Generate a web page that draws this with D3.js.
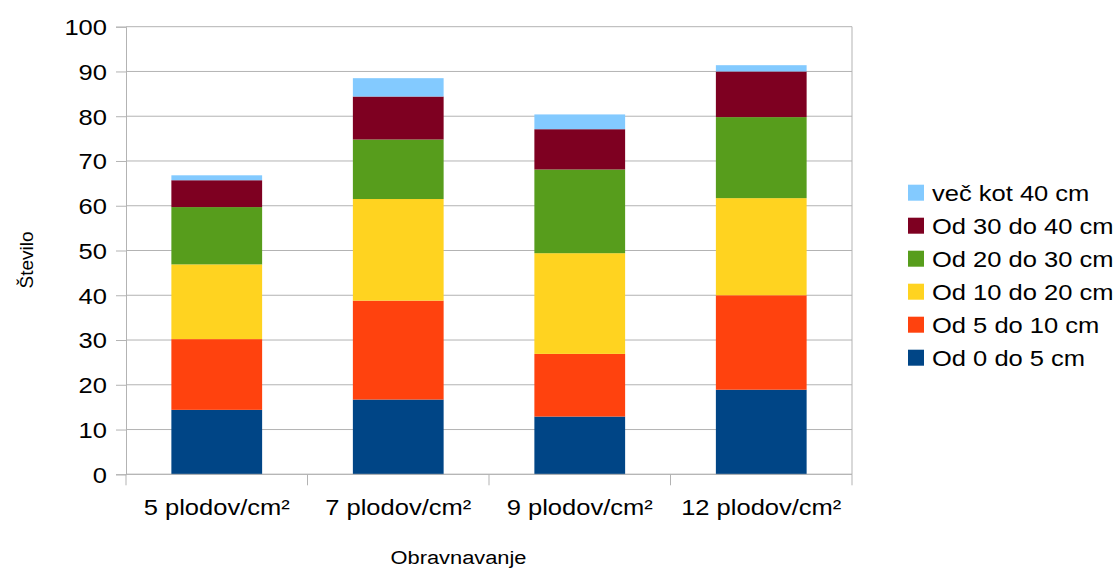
<!DOCTYPE html>
<html>
<head>
<meta charset="utf-8">
<script src="https://cdn.jsdelivr.net/npm/d3@7"></script>
<style>
  body { margin: 0; background: #fff; }
  text { font-family: "Liberation Sans", Arial, sans-serif; fill: #000; }
</style>
</head>
<body>
<script>
// data (segment values, bottom to top)
const categories = ["5 plodov/cm²", "7 plodov/cm²", "9 plodov/cm²", "12 plodov/cm²"];
const seriesNames = ["Od 0 do 5 cm", "Od 5 do 10 cm", "Od 10 do 20 cm", "Od 20 do 30 cm", "Od 30 do 40 cm", "več kot 40 cm"];
const od0do5 = [14.4, 16.7, 12.9, 18.9];
const od5do10 = [15.8, 22.1, 14.0, 21.1];
const od10do20 = [16.7, 22.7, 22.5, 21.7];
const od20do30 = [12.8, 13.3, 18.7, 18.1];
const od30do40 = [6.0, 9.6, 9.0, 10.2];
const vec40 = [1.1, 4.1, 3.3, 1.4];
const yTicks = [0, 10, 20, 30, 40, 50, 60, 70, 80, 90, 100];

const colors = ["#004586", "#ff420e", "#ffd320", "#579d1c", "#7e0021", "#83caff"];
const seriesValues = [od0do5, od5do10, od10do20, od20do30, od30do40, vec40];

const width = 1116, height = 568;
const plotLeft = 126, plotRight = 852, plotTop = 26.7, plotBottom = 474.3;
const sx = 1.16; // the picture is stretched sideways
const fs = 22;

const svg = d3.select("body").append("svg")
    .attr("width", width)
    .attr("height", height);

const x = d3.scaleBand()
    .domain(categories)
    .range([plotLeft, plotRight])
    .paddingInner(0.5)
    .paddingOuter(0.25);

const y = d3.scaleLinear()
    .domain([0, 100])
    .range([plotBottom, plotTop]);

// rows for the stack
const rows = categories.map((c, i) => {
    const r = { cat: c };
    seriesNames.forEach((s, j) => { r[s] = seriesValues[j][i]; });
    return r;
});
const stacked = d3.stack().keys(seriesNames)(rows);

// grid
svg.append("g")
    .selectAll("line")
    .data(yTicks)
    .enter()
    .append("line")
    .attr("x1", plotLeft)
    .attr("x2", plotRight)
    .attr("y1", (d) => y(d))
    .attr("y2", (d) => y(d))
    .attr("stroke", "#b3b3b3")
    .attr("stroke-width", 1);

// plot border right side
svg.append("line")
    .attr("x1", plotRight).attr("x2", plotRight)
    .attr("y1", plotTop).attr("y2", plotBottom)
    .attr("stroke", "#b3b3b3");

// bars
svg.append("g")
    .selectAll("g")
    .data(stacked)
    .enter()
    .append("g")
    .attr("fill", (d, i) => colors[i])
    .selectAll("rect")
    .data((d) => d)
    .enter()
    .append("rect")
    .attr("x", (d) => x(d.data.cat))
    .attr("width", x.bandwidth())
    .attr("y", (d) => y(d[1]))
    .attr("height", (d) => y(d[0]) - y(d[1]));

// y axis
const yAxis = d3.axisLeft(y)
    .tickValues(yTicks)
    .tickSize(10)
    .tickPadding(9)
    .tickFormat(d3.format("d"));
const gy = svg.append("g")
    .attr("transform", "translate(" + plotLeft + ",0)")
    .call(yAxis);
gy.select(".domain").attr("stroke", "#b3b3b3");
gy.selectAll(".tick line").attr("stroke", "#b3b3b3");
gy.selectAll(".tick text")
    .attr("font-size", fs)
    .attr("font-family", "Liberation Sans, Arial, sans-serif")
    .attr("fill", "#000")
    .attr("dy", "0.36em")
    .attr("x", null)
    .attr("transform", "translate(-19,0) scale(" + sx + ",1)");

// x axis: ticks at category boundaries
const gx = svg.append("g")
    .attr("transform", "translate(0," + plotBottom + ")");
gx.append("line")
    .attr("x1", plotLeft).attr("x2", plotRight)
    .attr("stroke", "#b3b3b3");
const bounds = categories.map((c) => x(c) - x.step() * x.paddingInner() / 2);
bounds.push(plotRight);
gx.selectAll(".tk")
    .data(bounds)
    .enter()
    .append("line")
    .attr("class", "tk")
    .attr("x1", (d) => d).attr("x2", (d) => d)
    .attr("y1", 0).attr("y2", 11)
    .attr("stroke", "#b3b3b3");
gx.selectAll("text")
    .data(categories)
    .enter()
    .append("text")
    .attr("text-anchor", "middle")
    .attr("font-size", fs)
    .attr("transform", (d) => "translate(" + (x(d) + x.bandwidth() / 2) + ",41) scale(" + sx + ",1)")
    .text((d) => d);

// axis titles
svg.append("text")
    .attr("text-anchor", "middle")
    .attr("font-size", 19)
    .attr("transform", "translate(458.5,564) scale(1.15,1)")
    .text("Obravnavanje");

svg.append("text")
    .attr("text-anchor", "middle")
    .attr("font-size", 19)
    .attr("transform", "translate(33,260) rotate(-90)")
    .text("Število");

// legend, top entry is the last series
const legendOrder = seriesNames.slice().reverse();
const legend = svg.append("g")
    .selectAll("g")
    .data(legendOrder)
    .enter()
    .append("g")
    .attr("transform", (d, i) => "translate(908," + (192.7 + i * 33) + ")");
legend.append("rect")
    .attr("x", 0).attr("y", -8)
    .attr("width", 16).attr("height", 16)
    .attr("fill", (d) => colors[seriesNames.indexOf(d)]);
legend.append("text")
    .attr("font-size", fs)
    .attr("transform", "translate(24,8) scale(" + sx + ",1)")
    .text((d) => d);
</script>
</body>
</html>
